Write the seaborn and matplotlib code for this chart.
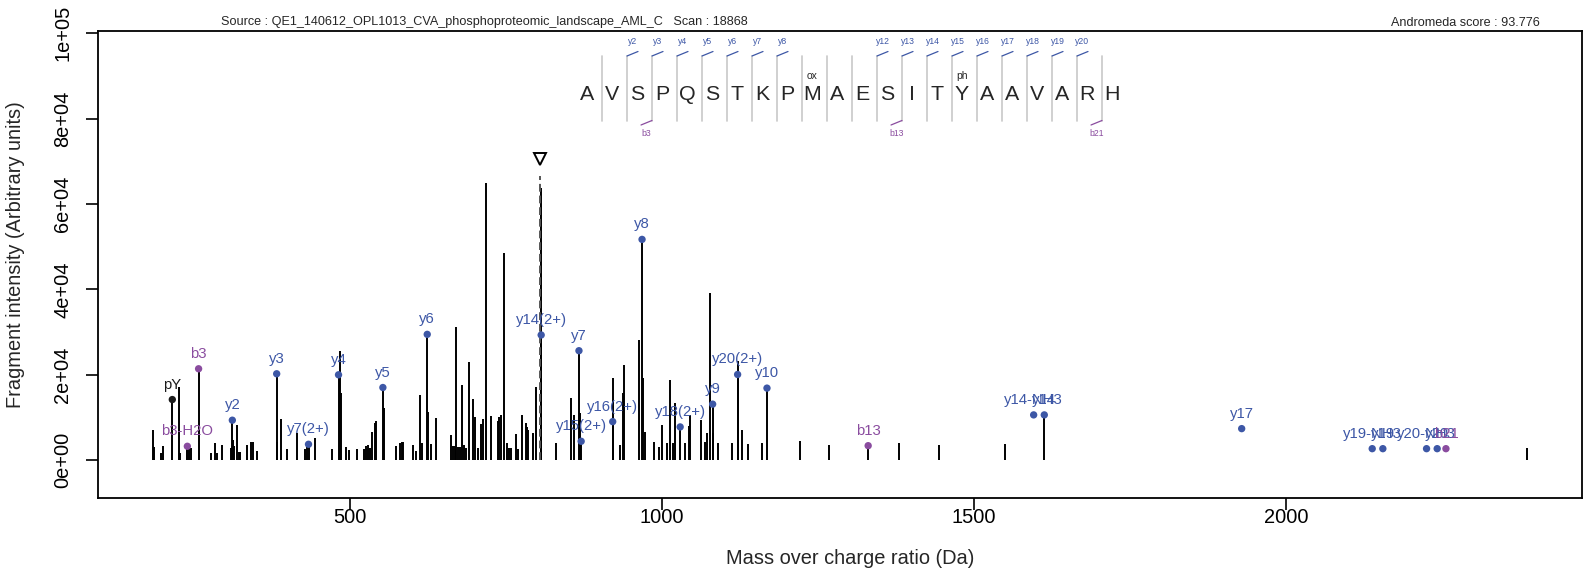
import matplotlib
matplotlib.use("Agg")
import pandas as pd
import matplotlib.pyplot as plt
import seaborn as sns

# ----------------------------
# Spectrum peaks (m/z, intensity)
# ----------------------------
peak_mz = [184.7, 186.8, 198.0, 200.7, 226.8, 228.4, 242.4, 245.6, 277.6, 285.0,
           288.2, 295.2, 309.6, 313.8, 315.4, 319.2, 322.9, 324.5, 335.2, 342.6,
           345.8, 352.2, 384.3, 390.2, 399.8, 415.3, 428.2, 431.4, 445.2, 471.9,
           484.7, 485.8, 493.8, 499.1, 511.4, 523.1, 527.0, 530.0, 533.0, 536.4,
           540.3, 542.4, 555.6, 574.4, 580.8, 583.5, 586.1, 602.1, 606.5, 612.9,
           615.6, 626.2, 630.0, 638.0, 662.5, 665.2, 668.9, 671.0, 674.2, 676.9,
           680.1, 683.8, 686.5, 690.9, 697.3, 701.0, 706.2, 710.1, 713.3, 719.1,
           726.6, 737.8, 739.9, 742.6, 747.9, 751.7, 754.9, 758.1, 766.2, 769.4,
           775.8, 782.6, 784.8, 786.3, 794.3, 798.7, 806.2, 830.7, 854.7, 859.5,
           869.2, 922.5, 933.2, 937.5, 940.1, 964.1, 970.5, 973.3, 988.2, 995.7,
           1000.0, 1009.0, 1013.3, 1017.6, 1020.8, 1037.8, 1044.2, 1045.8, 1063.0, 1068.9,
           1072.1, 1077.4, 1082.7, 1089.7, 1112.1, 1121.7, 1128.6, 1138.7, 1160.2, 1221.5,
           1268.0, 1380.1, 1444.2, 1549.9, 2385.6]
peak_int = [7050, 3130, 1720, 3290, 17080, 1720, 3130, 2740, 1720, 4070,
            1720, 3450, 2740, 4700, 3290, 8150, 1960, 1960, 3450, 4310,
            4310, 2110, 4230, 9710, 2500, 6420, 2700, 2980, 5170, 2660,
            25460, 15820, 2980, 2350, 2660, 2500, 3290, 3450, 2740, 6580,
            8620, 9240, 12140, 3290, 4070, 4310, 4310, 3520, 2110, 15350,
            4070, 11360, 3760, 9790, 5800, 3290, 3290, 31180, 3000, 3000,
            17620, 3450, 2900, 22870, 14410, 10180, 2740, 8460, 9560, 65020,
            10340, 9240, 10180, 10570, 48410, 3920, 2740, 2740, 6110, 2700,
            10570, 8620, 7830, 7050, 6420, 17000, 63840, 4070, 14490, 10570,
            11000, 19190, 3520, 15670, 22320, 28200, 19190, 6660, 4310, 3130,
            8220, 3920, 18640, 3920, 13320, 3920, 7990, 10570, 9400, 4310,
            6270, 39170, 6270, 3920, 3920, 23100, 7050, 3760, 3920, 4470,
            3520, 3920, 3520, 3760, 2750]

# annotated fragment ions
ion_labels = ["pY", "b3-H2O", "b3", "y2", "y3", "y7(2+)", "y4", "y5", "y6",
              "y14(2+)", "y7", "y15(2+)", "y16(2+)", "y8", "y18(2+)", "y9",
              "y20(2+)", "y10", "b13", "y14-NH3", "y14", "y17", "y19-NH3",
              "y19", "y20-NH3", "y20", "b21"]
ion_mz = [216.04, 240.13, 258.15, 312.18, 383.22, 434.20, 482.28, 553.32, 624.36,
          806.86, 867.39, 870.91, 921.43, 968.44, 1029.48, 1081.52,
          1121.52, 1168.55, 1330.63, 1595.69, 1612.72, 1928.89, 2137.98,
          2155.01, 2225.01, 2242.04, 2256.07]
ion_int = [14170, 3220, 21385, 9330, 20210, 3690, 19975, 16990, 29450,
           29300, 25615, 4390, 9000, 51700, 7755, 13090,
           20045, 16850, 3360, 10575, 10575, 7355, 2660,
           2660, 2660, 2660, 2660]
ion_type = ["imm", "b", "b", "y", "y", "y", "y", "y", "y",
            "y", "y", "y", "y", "y", "y", "y",
            "y", "y", "b", "y", "y", "y", "y",
            "y", "y", "y", "b"]
ion_stick = [True] * 19 + [False, True, False, False, False, False, False, False]

precursor_mz = 804.4
precursor_mark = 70600

peptide = "AVSPQSTKPMAESITYAAVARH"
peptide_mods = {9: "ox", 15: "ph"}
y_cuts = [2, 3, 4, 5, 6, 7, 8, 12, 13, 14, 15, 16, 17, 18, 19, 20]
b_cuts = [3, 13, 21]

source_text = "Source : QE1_140612_OPL1013_CVA_phosphoproteomic_landscape_AML_C   Scan : 18868"
score_text = "Andromeda score : 93.776"

x_ticks = [500, 1000, 1500, 2000]
y_ticks = [0, 20000, 40000, 60000, 80000, 100000]
y_ticklabels = ["0e+00", "2e+04", "4e+04", "6e+04", "8e+04", "1e+05"]

# ----------------------------
# Style
# ----------------------------
Y_COL = "#3D57A6"
B_COL = "#8A4C9F"
palette = {"y": Y_COL, "b": B_COL, "imm": "#1a1a1a"}

sns.set_style("ticks")
plt.rcParams["font.family"] = ["Liberation Sans", "DejaVu Sans"]

FIG_W, FIG_H = 1591, 575
fig = plt.figure(figsize=(FIG_W / 100, FIG_H / 100), dpi=100)
ax_left, ax_right, ax_top, ax_bottom = 98.3, 1582, 30.7, 498
ax = fig.add_axes([ax_left / FIG_W, 1 - ax_bottom / FIG_H,
                   (ax_right - ax_left) / FIG_W, (ax_bottom - ax_top) / FIG_H])


def fpos(px, py):
    return px / FIG_W, 1 - py / FIG_H


# ----------------------------
# Spectrum
# ----------------------------
ax.vlines(peak_mz, 0, peak_int, color="black", lw=1.4, zorder=2)

ions = pd.DataFrame({"label": ion_labels, "mz": ion_mz, "intensity": ion_int,
                     "type": ion_type, "stick": ion_stick})
sticks = ions[ions["stick"]]
ax.vlines(sticks["mz"], 0, sticks["intensity"], color="black", lw=1.4, zorder=2)
sns.scatterplot(data=ions, x="mz", y="intensity", hue="type", palette=palette,
                s=28, linewidth=0, legend=False, ax=ax, zorder=4)
for _, r in ions.iterrows():
    ax.annotate(r["label"], (r["mz"], r["intensity"]), xytext=(0, 8),
                textcoords="offset pixels", ha="center", va="bottom",
                fontsize=10.7, color=palette[r["type"]], zorder=5)

# precursor marker
ax.vlines(precursor_mz, 0, precursor_mark - 4000, color="#555555", lw=1.4,
          linestyles=(0, (4, 2)), zorder=3)
ax.plot([precursor_mz], [precursor_mark], marker="v", ms=8.8, mfc="none",
        mec="black", mew=1.4, ls="none", zorder=5)

ax.set_xlim(97.5, 2474)
ax.set_ylim(-8900, 100610)
ax.set_xticks(x_ticks)
ax.set_yticks(y_ticks)
ax.set_yticklabels(y_ticklabels, rotation=90, va="center")
ax.tick_params(direction="out", length=8.6, width=1.2, labelsize=14.4, colors="black")
ax.tick_params(axis="y", pad=10)
ax.tick_params(axis="x", pad=-1.5)
for s in ax.spines.values():
    s.set_visible(True)
    s.set_linewidth(1.3)
    s.set_color("black")

ax.set_xlabel("Mass over charge ratio (Da)", fontsize=14.4)
ax.set_ylabel("Fragment intensity (Arbitrary units)", fontsize=14.4)
ax.xaxis.set_label_coords(0.507, (ax_bottom - 558) / (ax_bottom - ax_top))
ax.xaxis.label.set_va("center")
ax.yaxis.set_label_coords((16 - ax_left) / (ax_right - ax_left), 0.52)
ax.yaxis.label.set_va("center")

# ----------------------------
# Peptide sequence with fragment coverage
# ----------------------------
seq_x0, seq_dx, seq_y = 587, 25.0, 94
for i, aa in enumerate(peptide):
    fig.text(*fpos(seq_x0 + i * seq_dx, seq_y), aa, fontsize=15.4,
             ha="center", va="center")
    if i in peptide_mods:
        fig.text(*fpos(seq_x0 + i * seq_dx, 76), peptide_mods[i], fontsize=7.5,
                 ha="center", va="center")

for k in range(1, len(peptide)):
    sx = seq_x0 + (k - 0.5) * seq_dx + 2.5
    fig.add_artist(plt.Line2D(*zip(fpos(sx, 56), fpos(sx, 121)),
                              color="#c8c8c8", lw=1.2))
    if k in y_cuts:
        fig.add_artist(plt.Line2D(*zip(fpos(sx, 56), fpos(sx + 11, 51.5)),
                                  color=Y_COL, lw=0.9))
        fig.text(*fpos(sx + 5.5, 41), f"y{k}", fontsize=6.2, color=Y_COL,
                 ha="center", va="center")
    if k in b_cuts:
        fig.add_artist(plt.Line2D(*zip(fpos(sx, 120.5), fpos(sx - 11, 125)),
                                  color=B_COL, lw=0.9))
        fig.text(*fpos(sx - 5.5, 134), f"b{k}", fontsize=6.2, color=B_COL,
                 ha="center", va="center")

# header
fig.text(*fpos(221, 22.5), source_text, fontsize=9.1, ha="left", va="center")
fig.text(*fpos(1465, 22.5), score_text, fontsize=9.1, ha="center", va="center")

fig.savefig("out.png", dpi=100)
